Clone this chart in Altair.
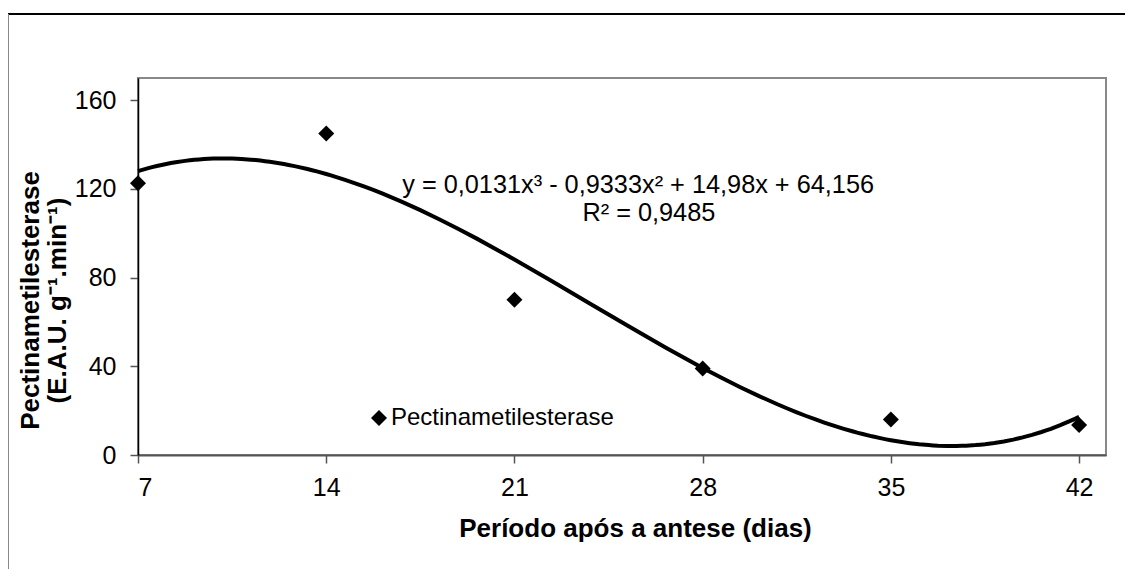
import altair as alt
import pandas as pd

# ---- data ----
dias = [7, 14, 21, 28, 35, 42]
pme = [122.5, 145.0, 70.0, 39.0, 16.0, 13.5]
serie = "Pectinametilesterase"
x_ticks = [7, 14, 21, 28, 35, 42]
y_ticks = [0, 40, 80, 120, 160]

ann_text = ["y = 0,0131x³ - 0,9333x² + 14,98x + 64,156", "R² = 0,9485"]
ann_x = [25.6, 26.0]
ann_y = [121.7, 109.1]

x_title = "Período após a antese (dias)"
y_title = ["Pectinametilesterase", "(E.A.U. g⁻¹.min⁻¹)"]

FONT = "Liberation Sans"
W, H = 968, 377

df = pd.DataFrame({"dias": dias, "pme": pme, "serie": [serie] * len(dias)})
ann = pd.DataFrame({"x": ann_x, "y": ann_y, "t": ann_text})

xscale = alt.Scale(domain=[7, 43], nice=False, zero=False)
yscale = alt.Scale(domain=[0, 170], nice=False)

x_axis = alt.Axis(
    values=x_ticks, title=x_title, grid=False,
    labelFont=FONT, labelFontSize=25, labelColor="black", labelPadding=12,
    tickSize=8, tickColor="#555555", tickWidth=1.5,
    domainColor="#555555", domainWidth=2,
    titleFont=FONT, titleFontSize=26, titleFontWeight="bold", titleColor="black",
    titleX=497, titleY=81, titleAlign="center", titleBaseline="alphabetic",
)
y_axis = alt.Axis(
    values=y_ticks, title=y_title, grid=False,
    labelFont=FONT, labelFontSize=25, labelColor="black", labelPadding=14,
    tickSize=8, tickColor="#555555", tickWidth=1.5,
    domainColor="black", domainWidth=1.5,
    titleFont=FONT, titleFontSize=26, titleFontWeight="bold", titleColor="black",
    titleAngle=270, titleAlign="center", titleBaseline="alphabetic",
    titleX=-100, titleY=222, titleLineHeight=27,
)

base = alt.Chart(df)

curve = base.transform_regression(
    "dias", "pme", method="poly", order=3, extent=[7, 42]
).mark_line(color="black", strokeWidth=4).encode(
    x=alt.X("dias:Q", scale=xscale, axis=x_axis),
    y=alt.Y("pme:Q", scale=yscale, axis=y_axis),
)

points = base.mark_point(shape="diamond", filled=True, size=256, opacity=1).encode(
    x=alt.X("dias:Q", scale=xscale),
    y=alt.Y("pme:Q", scale=yscale),
    color=alt.Color(
        "serie:N",
        scale=alt.Scale(range=["black"]),
        legend=alt.Legend(
            orient="none", legendX=229, legendY=328, title=None, padding=0,
            labelFont=FONT, labelFontSize=24, labelColor="black", labelOffset=0,
            labelLimit=0,
            symbolType="diamond", symbolSize=256, symbolFillColor="black",
            symbolStrokeWidth=0,
        ),
    ),
)

texts = alt.Chart(ann).mark_text(
    font=FONT, fontSize=25.3, color="black", align="center", baseline="middle"
).encode(
    x=alt.X("x:Q", scale=xscale),
    y=alt.Y("y:Q", scale=yscale),
    text="t:N",
)

one = pd.DataFrame({"k": [0]})
frame_top = alt.Chart(one).mark_rule(color="black", strokeWidth=2).encode(
    x=alt.value(-130), x2=alt.value(1000), y=alt.value(-64)
)
frame_left = alt.Chart(one).mark_rule(color="#888888", strokeWidth=2).encode(
    x=alt.value(-130), y=alt.value(-64), y2=alt.value(520)
)

chart = alt.layer(frame_top, frame_left, curve, points, texts).properties(
    width=W, height=H,
    autosize=alt.AutoSizeParams(type="none"),
    padding={"left": 130, "top": 70, "right": 19, "bottom": 114},
    background="white",
).configure_view(stroke="#888888", strokeWidth=2)

chart.save("out.html", embed_options={"renderer": "svg", "actions": False})
